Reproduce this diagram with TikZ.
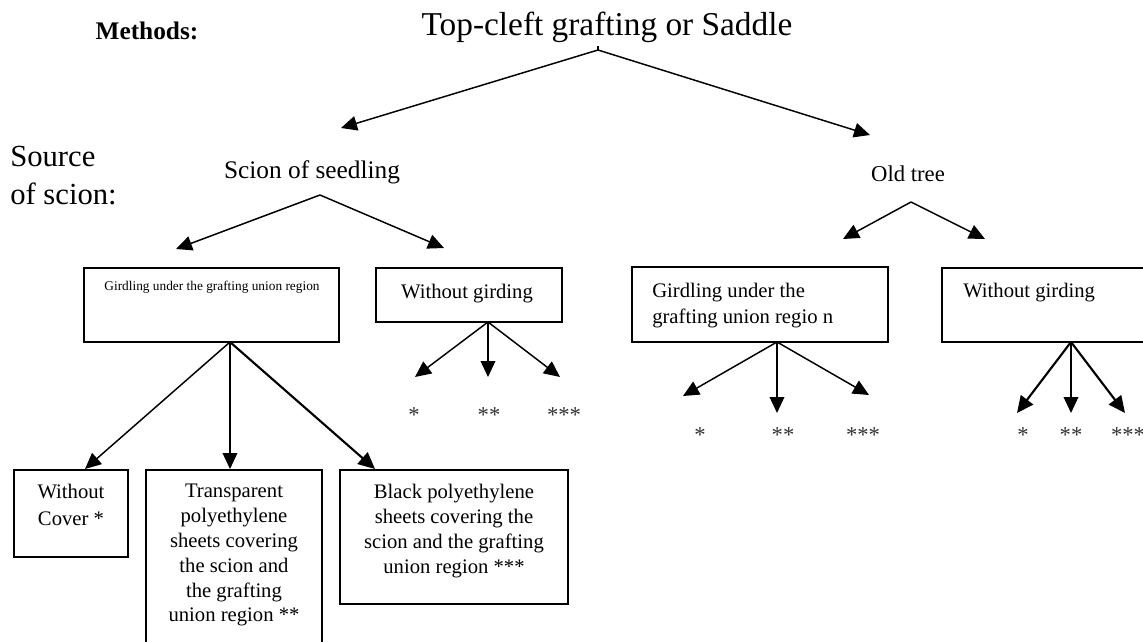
\documentclass[tikz,border=0pt]{standalone}
\usepackage{fontspec}
\setmainfont{Liberation Serif}
\usetikzlibrary{arrows.meta,fit}
\begin{document}
\begin{tikzpicture}[x=0.75pt,y=-0.75pt,
  box/.style={draw, line width=1.4pt, inner sep=0pt},
  txt/.style={inner sep=0pt},
  boxtxt/.style={inner sep=0pt, font=\fontsize{15.5}{19}\selectfont},
  star/.style={inner sep=0pt, anchor=base, text=black!80, font=\fontsize{17}{20}\selectfont},
  arr/.style={-{Triangle[length=12pt,width=11pt]}, line width=1.1pt},
  tarr/.style={-{Triangle[length=12.5pt,width=11.5pt]}, line width=1.6pt}]
\fill[white] (0,0) rectangle (1143,642);
\useasboundingbox (0,0) rectangle (1143,642);

% headings
\node[txt, anchor=base, font=\bfseries\fontsize{19}{22}\selectfont] (meth) at (147,40) {Methods:};
\node[txt, anchor=base, font=\fontsize{25}{28}\selectfont] (title) at (607,36) {Top-cleft grafting or Saddle};
\node[txt, anchor=north west, align=left, font=\fontsize{23}{28.5}\selectfont] (src) at (10,146) {Source\\of scion:};
\node[txt, anchor=base, font=\fontsize{19}{22}\selectfont] (seed) at (312,178) {Scion of seedling};
\node[txt, anchor=base, font=\fontsize{17}{20}\selectfont] (old) at (908,181) {Old tree};

% boxes
\node[box, fit={(84,268)(339,342)}] (A) {};
\node[box, fit={(376,268)(562,322)}] (B) {};
\node[box, fit={(632,267)(888,342)}] (C) {};
\node[box, fit={(942,268)(1152,342)}] (D) {};
\node[box, fit={(14,470)(128,557)}] (WC) {};
\node[box, fit={(146,470)(322,652)}] (TP) {};
\node[box, fit={(340,470)(568,604)}] (BP) {};

% box texts
\node[txt, anchor=base, font=\fontsize{10}{12}\selectfont] (At) at (212,290) {Girdling under the grafting union region};
\node[boxtxt, anchor=base] (Bt) at (467,298) {Without girding};
\node[boxtxt, anchor=north west, align=left, font=\fontsize{15.5}{19.5}\selectfont] (Ct) at (652,283) {Girdling under the\\grafting union regio n};
\node[boxtxt, anchor=north west, align=left] (Dt) at (963,283) {Without girding};
\node[boxtxt, anchor=north, align=center, font=\fontsize{15.5}{20}\selectfont] (WCt) at (71,484) {Without\\Cover *};
\node[boxtxt, anchor=north, align=center, font=\fontsize{15.5}{18.6}\selectfont] (TPt) at (234,484) {Transparent\\polyethylene\\sheets covering\\the scion and\\the grafting\\union region **};
\node[boxtxt, anchor=north, align=center, font=\fontsize{15.5}{18.75}\selectfont] (BPt) at (454,484) {Black polyethylene\\sheets covering the\\scion and the grafting\\union region ***};

% stars
\node[star] (b1) at (414,422) {*};
\node[star] (b2) at (489,422) {**};
\node[star] (b3) at (564,422) {***};
\node[star] (c1) at (700,442) {*};
\node[star] (c2) at (783,442) {**};
\node[star] (c3) at (863,442) {***};
\node[star] (d1) at (1023,442) {*};
\node[star] (d2) at (1071,442) {**};
\node[star] (d3) at (1128,442) {***};

% connector points
\coordinate (T0) at (598,50);
\coordinate (Tl) at (341,128);
\coordinate (Tr) at (870,135);
\coordinate (S0) at (320,195);
\coordinate (Sl) at (176,249);
\coordinate (Sr) at (444,248);
\coordinate (O0) at (911,202);
\coordinate (Ol) at (843,239);
\coordinate (Or) at (985,239);
\coordinate (A0) at (230,342);
\coordinate (A1) at (85,469);
\coordinate (A2) at (230,469);
\coordinate (A3) at (375,469);
\coordinate (B0) at (488,322);
\coordinate (B1) at (415,377);
\coordinate (B2) at (488,377);
\coordinate (B3) at (560,377);
\coordinate (C0) at (777,342);
\coordinate (C1) at (683,396);
\coordinate (C2) at (777,413);
\coordinate (C3) at (869,395);
\coordinate (D0) at (1071,342);
\coordinate (D1) at (1017,413);
\coordinate (D2) at (1071,413);
\coordinate (D3) at (1125,413);

% connectors
\draw[line width=0.8pt] (T0) -- ++(0,-4);
\draw[arr] (T0) -- (Tl);
\draw[arr] (T0) -- (Tr);
\draw[arr] (S0) -- (Sl);
\draw[arr] (S0) -- (Sr);
\draw[arr] (O0) -- (Ol);
\draw[arr] (O0) -- (Or);
\draw[arr] (A0) -- (A1);
\draw[arr] (A0) -- (A2);
\draw[tarr] (A0) -- (A3);
\draw[arr] (B0) -- (B1);
\draw[arr] (B0) -- (B2);
\draw[arr] (B0) -- (B3);
\draw[arr] (C0) -- (C1);
\draw[arr] (C0) -- (C2);
\draw[arr] (C0) -- (C3);
\draw[tarr] (D0) -- (D1);
\draw[arr] (D0) -- (D2);
\draw[tarr] (D0) -- (D3);
\end{tikzpicture}
\end{document}
